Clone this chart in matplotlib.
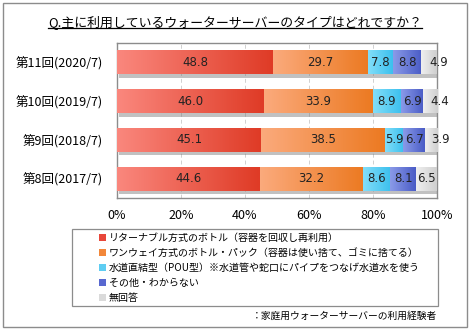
import matplotlib
matplotlib.use("Agg")
import matplotlib.pyplot as plt
import numpy as np
import matplotlib.patheffects as pe
from matplotlib.patches import Patch, Rectangle
from matplotlib.colors import LinearSegmentedColormap

plt.rcParams['font.family'] = ['Noto Sans CJK JP', 'DejaVu Sans']

categories = ["第11回(2020/7)", "第10回(2019/7)", "第9回(2018/7)", "第8回(2017/7)"]
series_names = [
    "リターナブル方式のボトル（容器を回収し再利用）",
    "ワンウェイ方式のボトル・パック（容器は使い捨て、ゴミに捨てる）",
    "水道直結型（POU型）※水道管や蛇口にパイプをつなげ水道水を使う",
    "その他・わからない",
    "無回答",
]
returnable = [48.8, 46.0, 45.1, 44.6]
oneway = [29.7, 33.9, 38.5, 32.2]
pou = [7.8, 8.9, 5.9, 8.6]
other = [8.8, 6.9, 6.7, 8.1]
noanswer = [4.9, 4.4, 3.9, 6.5]
xticks = [0, 20, 40, 60, 80, 100]
xtick_labels = ["0%", "20%", "40%", "60%", "80%", "100%"]

series = [returnable, oneway, pou, other, noanswer]
grad = [("#FA877D", "#DF3B26"), ("#FBAA7C", "#EC7A22"), ("#82DEF9", "#3CC0EE"),
        ("#8A9AE8", "#4A5CC6"), ("#EFEFEF", "#CFCFCF")]
legend_colors = ["#E8473A", "#F2873A", "#5ECDF2", "#5868D0", "#DADADA"]

W, H = 470, 332
fig = plt.figure(figsize=(W / 100, H / 100), dpi=100)
ax = fig.add_axes([117 / W, 1 - 198 / H, 320 / W, 155 / H])

y = np.arange(len(categories))[::-1]
left = np.zeros(len(categories))
for si, (vals, (c1, c2)) in enumerate(zip(series, grad)):
    bars = ax.barh(y, vals, left=left, height=0.62, color=c2, edgecolor='none', zorder=3,
                   path_effects=[pe.withSimplePatchShadow(offset=(1.5, -2.5), shadow_rgbFace='#777777', alpha=0.45)])
    cmap = LinearSegmentedColormap.from_list('g', [c1, c2])
    for b, v in zip(bars, vals):
        x0, y0, w, h = b.get_x(), b.get_y(), b.get_width(), b.get_height()
        im = ax.imshow(np.linspace(0, 1, 64).reshape(1, -1), cmap=cmap, aspect='auto',
                       extent=(x0, x0 + w, y0, y0 + h), zorder=4, interpolation='bilinear')
        im.set_clip_path(b)
        xc = x0 + w / 2
        if si == len(series) - 1 and w < 6:
            xc = x0 + w / 2 + 3.0
        ax.text(xc, y0 + h / 2, f"{v:.1f}", ha='center', va='center',
                fontsize=8.5, color='#222222', zorder=6, clip_on=False,
                family=['DejaVu Sans'])
    left = left + np.array(vals)

ax.set_xlim(0, 100)
ax.set_ylim(-0.5, 3.5)
ax.set_yticks(y)
ax.set_yticklabels(categories, fontsize=9)
ax.set_xticks(xticks)
ax.set_xticklabels(xtick_labels, fontsize=9)
ax.tick_params(axis='y', length=0, pad=10)
ax.tick_params(axis='x', length=0, pad=8)
ax.grid(axis='x', color='#D0D0D0', linestyle=(0, (4, 3)), linewidth=0.7, zorder=0)
for s in ax.spines.values():
    s.set_color('#8C8C8C')
    s.set_linewidth(1.0)

# title with underline
t = fig.text(0.5, 1 - 22 / H, "Q.主に利用しているウォーターサーバーのタイプはどれですか？",
             ha='center', va='center', fontsize=9.3)
fig.canvas.draw()
bb = t.get_window_extent().transformed(fig.transFigure.inverted())
fig.add_artist(plt.Line2D([bb.x0, bb.x1], [bb.y0 + 0.004, bb.y0 + 0.004], color='black', lw=0.9))

# legend
handles = [Patch(facecolor=c, edgecolor='none') for c in legend_colors]
fig.legend(handles, series_names, loc='upper left', bbox_to_anchor=(97 / W, 1 - 230.5 / H),
           frameon=False, fontsize=7.2, handlelength=0.7, handleheight=0.7, handletextpad=0.3,
           labelspacing=0.52, borderpad=0.2, borderaxespad=0)
fig.add_artist(Rectangle((72 / W, 1 - 306 / H), (438 - 72) / W, (306 - 229) / H,
                         transform=fig.transFigure, fill=False, edgecolor='#8C8C8C', lw=0.9))

fig.text(437 / W, 1 - 316 / H, "：家庭用ウォーターサーバーの利用経験者", ha='right', va='center', fontsize=7)

fig.add_artist(Rectangle((3 / W, 1 - 327 / H), 464 / W, 324 / H, transform=fig.transFigure,
                         fill=False, edgecolor='#8C8C8C', lw=1.0))

fig.savefig("out.png", dpi=100)
